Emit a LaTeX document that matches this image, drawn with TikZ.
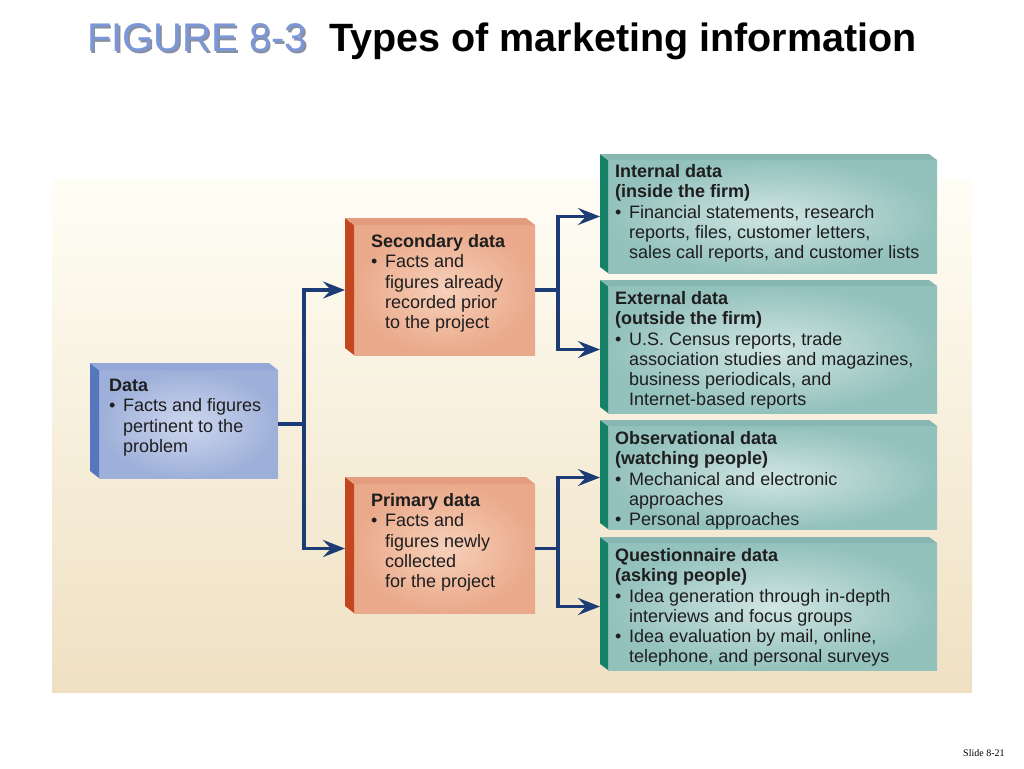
\documentclass[tikz,border=0pt]{standalone}
\usepackage{fontspec}
\setmainfont{Liberation Sans}
\newfontfamily\serifx{Liberation Serif}
\usetikzlibrary{arrows.meta}
\definecolor{navy}{HTML}{1D3B74}
\definecolor{bgtop}{HTML}{FFFEF6}
\definecolor{bgmid}{HTML}{FBF2DE}
\definecolor{bgbot}{HTML}{EFE0C2}
\definecolor{bluein}{HTML}{CDD6EE}
\definecolor{blueout}{HTML}{9EB0D9}
\definecolor{blueside}{HTML}{5577BD}
\definecolor{bluetop}{HTML}{93A8D6}
\definecolor{salin}{HTML}{F7D0BA}
\definecolor{salout}{HTML}{EAA98A}
\definecolor{salside}{HTML}{C4461F}
\definecolor{saltop}{HTML}{E39C7E}
\definecolor{grin}{HTML}{D0E5E2}
\definecolor{grout}{HTML}{93C1BC}
\definecolor{grside}{HTML}{178168}
\definecolor{grtop}{HTML}{86B7B0}
\definecolor{figblue}{HTML}{7B97D8}
\definecolor{figshadow}{HTML}{8A8FA0}
\definecolor{txtc}{HTML}{1E1E1E}
\newcommand\bul{\makebox[14pt][l]{\textbullet}}
\newcommand\ind{\hspace*{14pt}}
% draws the side and top faces of a slab whose front face is node #1
\newcommand\slabfaces[5]{%
  \fill[#2] (#1.north west) -- (#1.south west) -- ([shift={(-#4,-#5)}]#1.south west) -- ([shift={(-#4,-#5)}]#1.north west) -- cycle;
  \fill[#3] (#1.north west) -- (#1.north east) -- ([shift={(-#4,-#5)}]#1.north east) -- ([shift={(-#4,-#5)}]#1.north west) -- cycle;
}
\tikzset{
  face/.style={anchor=north west, inner sep=0pt, outer sep=0pt, draw=none, shade, shading=radial},
  blueface/.style={face, inner color=bluein, outer color=blueout},
  salface/.style={face, inner color=salin, outer color=salout},
  grface/.style={face, inner color=grin, outer color=grout},
  txt/.style={anchor=north west, inner sep=0pt, align=left, text=txtc,
    font=\fontsize{18}{20.3}\selectfont},
  arr/.style={draw=navy, line width=3.5pt, line join=miter,
    -{Stealth[length=22pt,width=17pt,inset=8pt]}},
}
\begin{document}
\begin{tikzpicture}[x=1pt,y=-1pt]
\useasboundingbox (0,0) rectangle (1024,768);
\fill[white] (0,0) rectangle (1024,768);
% background panel
\shade[top color=bgtop, middle color=bgmid, bottom color=bgbot] (52,178) rectangle (972,692);

% title
\node[anchor=base west, inner sep=0pt, text=figblue, font=\fontsize{40}{44}\selectfont] (fig) at (87,52)
  {\rlap{\hspace{1.5pt}\raisebox{-1.5pt}{\color{figshadow}FIGURE 8-3}}FIGURE 8-3};
\node[anchor=base west, inner sep=0pt, text=black, font=\fontsize{39.5}{44}\selectfont\bfseries] (title) at (329,52) {Types of marketing information};

% boxes (front faces)
\node[blueface, minimum width=179pt, minimum height=108pt] (data) at (99,370) {};
\slabfaces{data}{blueside}{bluetop}{9}{7}
\node[salface, minimum width=181pt, minimum height=130pt] (sec) at (354,225) {};
\slabfaces{sec}{salside}{saltop}{9}{7}
\node[salface, minimum width=181pt, minimum height=129pt] (pri) at (354,484) {};
\slabfaces{pri}{salside}{saltop}{9}{7}
\node[grface, minimum width=329pt, minimum height=113pt] (int) at (608,160) {};
\slabfaces{int}{grside}{grtop}{8}{6}
\node[grface, minimum width=329pt, minimum height=127pt] (ext) at (608,286) {};
\slabfaces{ext}{grside}{grtop}{8}{6}
\node[grface, minimum width=329pt, minimum height=103pt] (obs) at (608,426) {};
\slabfaces{obs}{grside}{grtop}{8}{6}
\node[grface, minimum width=329pt, minimum height=127pt] (que) at (608,543) {};
\slabfaces{que}{grside}{grtop}{8}{6}

% texts
\node[txt] (dataT) at (109,377) {\strut\textbf{Data}\\ \bul Facts and figures\\ \ind pertinent to the\\ \ind problem};
\node[txt] (secT) at (371,233) {\strut\textbf{Secondary data}\\ \bul Facts and\\ \ind figures already\\ \ind recorded prior\\ \ind to the project};
\node[txt] (priT) at (371,492) {\strut\textbf{Primary data}\\ \bul Facts and\\ \ind figures newly\\ \ind collected\\ \ind for the project};
\node[txt] (intT) at (615,163) {\strut\textbf{Internal data}\\ \textbf{(inside the firm)}\\ \bul Financial statements, research\\ \ind reports, files, customer letters,\\ \ind sales call reports, and customer lists};
\node[txt] (extT) at (615,290) {\strut\textbf{External data}\\ \textbf{(outside the firm)}\\ \bul U.S. Census reports, trade\\ \ind association studies and magazines,\\ \ind business periodicals, and\\ \ind Internet-based reports};
\node[txt] (obsT) at (615,430) {\strut\textbf{Observational data}\\ \textbf{(watching people)}\\ \bul Mechanical and electronic\\ \ind approaches\\ \bul Personal approaches};
\node[txt] (queT) at (615,547) {\strut\textbf{Questionnaire data}\\ \textbf{(asking people)}\\ \bul Idea generation through in-depth\\ \ind interviews and focus groups\\ \bul Idea evaluation by mail, online,\\ \ind telephone, and personal surveys};

% connectors
\draw[arr] (data.east) -- ++(26,0) |- ([xshift=-9pt]sec.west);
\draw[arr] (data.east) -- ++(26,0) |- ([xshift=-9pt]pri.west);
\draw[arr] (sec.east) -- ++(23,0) |- ([xshift=-8pt]int.west);
\draw[arr] (sec.east) -- ++(23,0) |- ([xshift=-8pt]ext.west);
\draw[arr] (pri.east) -- ++(23,0) |- ([xshift=-8pt]obs.west);
\draw[arr] (pri.east) -- ++(23,0) |- ([xshift=-8pt]que.west);

% slide number
\node[anchor=base west, inner sep=0pt, font=\serifx\fontsize{10}{12}\selectfont] (slide) at (963,756) {Slide 8-21};
\end{tikzpicture}
\end{document}
